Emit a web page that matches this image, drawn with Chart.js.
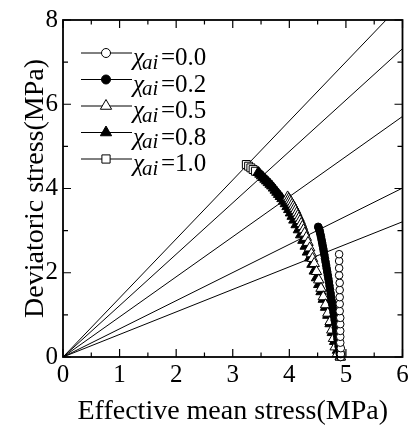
<!DOCTYPE html>
<html>
<head>
<meta charset="utf-8">
<script src="https://cdn.jsdelivr.net/npm/chart.js@4.4.0/dist/chart.umd.min.js"></script>
<style>
  html, body { margin: 0; padding: 0; background: #fff; }
</style>
</head>
<body>
<canvas id="stressChart" width="413" height="426"></canvas>
<script>
// stress paths, p = effective mean stress, q = deviatoric stress (MPa)
const chiLabels = ['0.0', '0.2', '0.5', '0.8', '1.0'];

const p00 = [4.91, 4.91, 4.91, 4.90, 4.90, 4.90, 4.90, 4.90, 4.89, 4.89, 4.89, 4.89, 4.89, 4.88, 4.88, 4.88, 4.88];
const q00 = [0.00, 0.07, 0.21, 0.34, 0.48, 0.62, 0.78, 0.93, 1.09, 1.26, 1.42, 1.59, 1.76, 1.94, 2.11, 2.28, 2.44];

const p02 = [4.90, 4.89, 4.88, 4.87, 4.86, 4.85, 4.84, 4.83, 4.82, 4.81, 4.80, 4.79, 4.78, 4.77, 4.76, 4.75, 4.74, 4.73, 4.72, 4.71,
             4.70, 4.69, 4.68, 4.67, 4.66, 4.65, 4.64, 4.63, 4.62, 4.61, 4.60, 4.59, 4.58, 4.57, 4.56, 4.55, 4.54, 4.53, 4.52, 4.51];
const q02 = [0.00, 0.08, 0.16, 0.25, 0.34, 0.43, 0.52, 0.61, 0.70, 0.79, 0.88, 0.97, 1.06, 1.15, 1.24, 1.33, 1.42, 1.51, 1.60, 1.69,
             1.78, 1.86, 1.94, 2.02, 2.10, 2.18, 2.26, 2.34, 2.42, 2.50, 2.57, 2.64, 2.71, 2.78, 2.85, 2.91, 2.97, 3.02, 3.06, 3.09];

const p05 = [3.97, 3.99, 4.01, 4.03, 4.05, 4.07, 4.09, 4.11, 4.13, 4.15, 4.17, 4.19, 4.21, 4.23, 4.25, 4.27, 4.30, 4.33, 4.36, 4.39,
             4.41, 4.44, 4.48, 4.52, 4.56, 4.60, 4.64, 4.68, 4.72, 4.75, 4.78, 4.81, 4.85, 4.90];
const q05 = [3.80, 3.76, 3.72, 3.68, 3.63, 3.58, 3.53, 3.48, 3.42, 3.36, 3.30, 3.24, 3.17, 3.10, 3.02, 2.94, 2.84, 2.72, 2.59, 2.45,
             2.34, 2.22, 2.03, 1.83, 1.63, 1.43, 1.24, 1.04, 0.84, 0.64, 0.44, 0.24, 0.08, 0.00];

const p08 = [3.45, 3.48, 3.51, 3.54, 3.57, 3.60, 3.63, 3.66, 3.69, 3.72, 3.75, 3.78, 3.81, 3.84, 3.87, 3.90, 3.93, 3.96, 3.99, 4.02,
             4.05, 4.08, 4.12, 4.16, 4.20, 4.24, 4.28, 4.32, 4.36, 4.40, 4.44, 4.48, 4.52, 4.56, 4.60, 4.64, 4.68, 4.72, 4.76, 4.80, 4.85, 4.90];
const q08 = [4.38, 4.34, 4.30, 4.26, 4.22, 4.18, 4.14, 4.10, 4.06, 4.01, 3.96, 3.91, 3.86, 3.81, 3.76, 3.70, 3.64, 3.57, 3.50, 3.42,
             3.34, 3.25, 3.14, 3.02, 2.90, 2.77, 2.63, 2.49, 2.35, 2.20, 2.04, 1.88, 1.72, 1.55, 1.37, 1.18, 0.99, 0.79, 0.58, 0.37, 0.16, 0.00];

const p10 = [3.24, 3.28, 3.32, 3.36, 3.40, 4.91];
const q10 = [4.57, 4.53, 4.49, 4.45, 4.41, 0.03];

// straight lines from the origin, end points on the frame
const lineEndP = [5.71, 6.00, 6.00, 6.00, 6.00];
const lineEndQ = [8.00, 7.32, 5.71, 4.01, 3.21];

const xTicks = [0, 1, 2, 3, 4, 5, 6];
const yTicks = [0, 2, 4, 6, 8];

const serif = '"Liberation Serif", "Times New Roman", serif';

const markers = [
    { style: 'circle',   fill: '#fff', r: 3.8, legendR: 4.5 },
    { style: 'circle',   fill: '#000', r: 3.8, legendR: 4.5 },
    { style: 'triangle', fill: '#fff', r: 6.0, legendR: 6.5 },
    { style: 'triangle', fill: '#000', r: 6.0, legendR: 6.5 },
    { style: 'rect',     fill: '#fff', r: 5.6, legendR: 5.8 }
];

function pts(p, q) {
    return p.map((v, i) => ({ x: v, y: q[i] }));
}

const seriesP = [p00, p02, p05, p08, p10];
const seriesQ = [q00, q02, q05, q08, q10];

const datasets = [];
seriesP.forEach((p, i) => {
    datasets.push({
        label: 'chi=' + chiLabels[i],
        data: pts(p, seriesQ[i]),
        showLine: false,
        pointStyle: markers[i].style,
        pointRadius: markers[i].r,
        pointBackgroundColor: markers[i].fill,
        pointBorderColor: '#000',
        pointBorderWidth: 1,
        clip: false,
        order: i
    });
});
lineEndP.forEach((p, i) => {
    datasets.push({
        data: [{ x: 0, y: 0 }, { x: p, y: lineEndQ[i] }],
        showLine: true,
        borderColor: '#000',
        borderWidth: 1,
        pointRadius: 0,
        fill: false,
        order: 10
    });
});

// frame and inward ticks on all four sides
const framePlugin = {
    id: 'frame',
    afterDatasetsDraw(chart) {
        const { ctx, chartArea: a, scales } = chart;
        ctx.save();
        ctx.strokeStyle = '#000';
        ctx.lineWidth = 1.2;
        ctx.beginPath();
        scales.x.ticks.forEach(t => {
            const px = scales.x.getPixelForValue(t.value);
            const len = Number.isInteger(t.value) ? 8 : 4.5;
            ctx.moveTo(px, a.bottom); ctx.lineTo(px, a.bottom - len);
            ctx.moveTo(px, a.top); ctx.lineTo(px, a.top + len);
        });
        scales.y.ticks.forEach(t => {
            const py = scales.y.getPixelForValue(t.value);
            const len = t.value % 2 === 0 ? 8 : 5;
            ctx.moveTo(a.left, py); ctx.lineTo(a.left + len, py);
            ctx.moveTo(a.right, py); ctx.lineTo(a.right - len, py);
        });
        ctx.stroke();
        ctx.lineWidth = 1.8;
        ctx.strokeRect(a.left, a.top, a.right - a.left, a.bottom - a.top);
        ctx.restore();
    }
};

// legend: line through marker, then italic chi with subscript ai
const legendPlugin = {
    id: 'chiLegend',
    afterDraw(chart) {
        const ctx = chart.ctx;
        chiLabels.forEach((lab, i) => {
            const y = 53 + i * 26.5;
            const m = markers[i];
            ctx.save();
            ctx.strokeStyle = '#000';
            ctx.lineWidth = 1;
            ctx.beginPath();
            ctx.moveTo(81, y);
            ctx.lineTo(132, y);
            ctx.stroke();
            ctx.fillStyle = m.fill;
            Chart.helpers.drawPoint(ctx, { pointStyle: m.style, radius: m.legendR, borderWidth: 1, rotation: 0 }, 106, y);
            ctx.fillStyle = '#000';
            ctx.textBaseline = 'alphabetic';
            ctx.textAlign = 'left';
            ctx.font = 'italic 25px ' + serif;
            ctx.fillText('χ', 133, y + 12);
            ctx.font = 'italic 21px ' + serif;
            ctx.fillText('ai', 142, y + 15.5);
            ctx.font = '25px ' + serif;
            ctx.fillText('=' + lab, 161, y + 12);
            ctx.restore();
        });
    }
};

new Chart(document.getElementById('stressChart').getContext('2d'), {
    type: 'scatter',
    data: { datasets: datasets },
    options: {
        responsive: false,
        animation: false,
        events: [],
        layout: { padding: { top: 20, right: 10.5, left: 0, bottom: 0 } },
        plugins: { legend: { display: false }, tooltip: { enabled: false } },
        scales: {
            x: {
                type: 'linear', min: 0, max: 6,
                afterFit(s) { s.height = 69; },
                afterBuildTicks(s) {
                    const t = [];
                    xTicks.forEach((v, i) => { t.push({ value: v }); if (i < xTicks.length - 1) t.push({ value: v + 0.5 }); });
                    s.ticks = t;
                },
                grid: { display: false, drawTicks: false },
                border: { display: false },
                ticks: {
                    autoSkip: false, maxRotation: 0, padding: 3, color: '#000',
                    font: { family: serif, size: 25 },
                    callback: v => xTicks.includes(v) ? String(v) : ''
                },
                title: {
                    display: true, text: 'Effective mean stress(MPa)', color: '#000',
                    font: { family: serif, size: 28, lineHeight: 1 },
                    padding: { top: 0, bottom: 0 }
                }
            },
            y: {
                type: 'linear', min: 0, max: 8,
                afterFit(s) { s.width = 63; },
                afterBuildTicks(s) {
                    const t = [];
                    for (let v = 0; v <= 8; v++) t.push({ value: v });
                    s.ticks = t;
                },
                grid: { display: false, drawTicks: false },
                border: { display: false },
                ticks: {
                    autoSkip: false, padding: 5, color: '#000',
                    font: { family: serif, size: 25 },
                    callback: v => yTicks.includes(v) ? String(v) : ''
                },
                title: {
                    display: true, text: 'Deviatoric stress(MPa)', color: '#000',
                    font: { family: serif, size: 28, lineHeight: 1 },
                    padding: { top: 22, bottom: 0 }
                }
            }
        }
    },
    plugins: [framePlugin, legendPlugin]
});
</script>
</body>
</html>
